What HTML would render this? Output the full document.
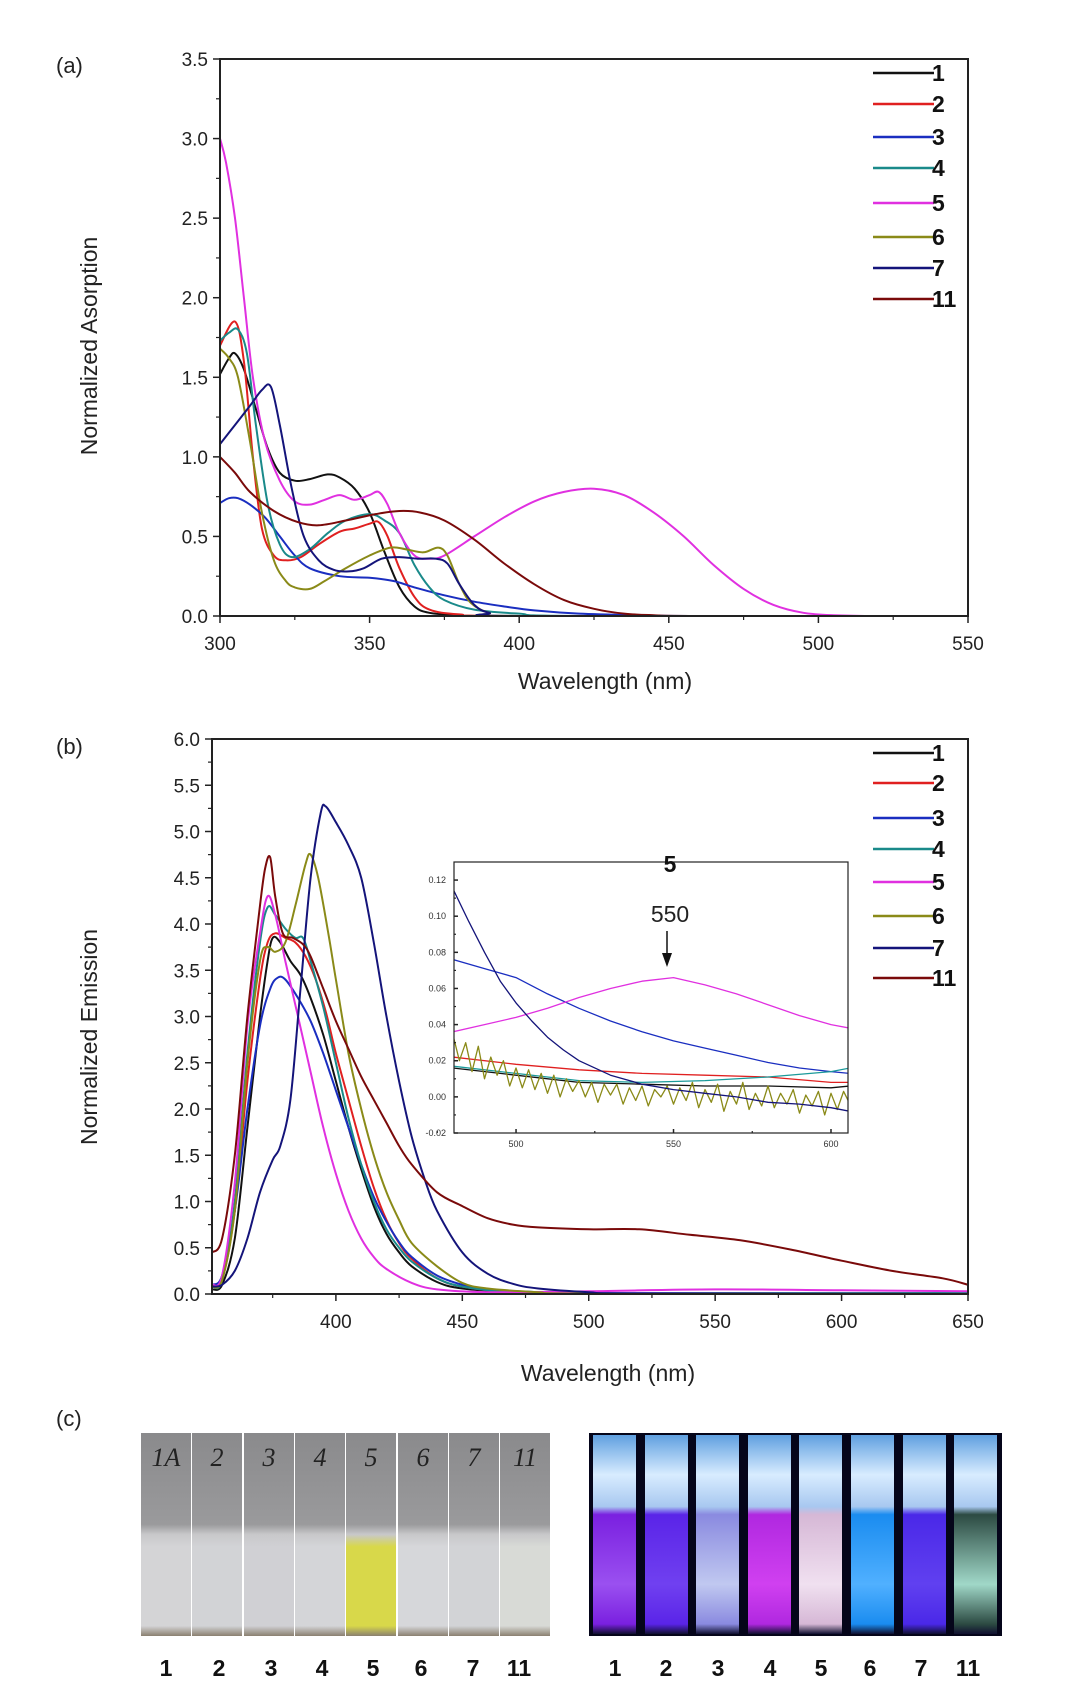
<!DOCTYPE html>
<html><head><meta charset="utf-8">
<style>
html,body{margin:0;padding:0;background:#fff;}
body{width:1080px;height:1696px;position:relative;overflow:hidden;font-family:"Liberation Sans",sans-serif;}
svg{position:absolute;left:0;top:0;}
.tk{font-family:"Liberation Sans Narrow","Liberation Sans",sans-serif;font-size:19px;fill:#222;}
.ttl{font-family:"Liberation Sans",sans-serif;font-size:23px;fill:#222;}
.lg{font-family:"Liberation Sans",sans-serif;font-size:23px;font-weight:bold;fill:#111;}
.pl{font-family:"Liberation Sans",sans-serif;font-size:22px;fill:#222;}
.itk{font-family:"Liberation Sans",sans-serif;font-size:9px;fill:#333;}
.cl{font-family:"Liberation Sans",sans-serif;font-size:23px;font-weight:bold;fill:#111;}
</style></head>
<body>
<svg id="fig" width="1080" height="1696" viewBox="0 0 1080 1696" xmlns="http://www.w3.org/2000/svg"></svg>
<script>
const NS="http://www.w3.org/2000/svg";
const svg=document.getElementById('fig');
const seriesNames=["1","2","3","4","5","6","7","11"];
const seriesColors=["#111111","#e02020","#1a2ec0","#1a8a8a","#e030e0","#8a8a18","#14147a","#7a0a0a"];

// ---- (a) absorption data: [wavelength, value]
const abs1=[[300,1.52],[303,1.62],[305,1.65],[308,1.55],[312,1.3],[316,1.05],[320,0.9],[325,0.85],[330,0.86],[336,0.89],[340,0.87],[345,0.8],[350,0.65],[355,0.4],[360,0.18],[365,0.06],[370,0.02],[380,0.005],[400,0],[550,0]];
const abs2=[[300,1.7],[305,1.85],[308,1.6],[311,1.0],[314,0.55],[318,0.38],[322,0.35],[327,0.37],[333,0.45],[340,0.53],[345,0.55],[350,0.58],[353,0.59],[356,0.5],[360,0.3],[365,0.12],[370,0.04],[380,0.01],[400,0],[550,0]];
const abs3=[[300,0.71],[303,0.74],[306,0.74],[310,0.7],[315,0.62],[320,0.5],[325,0.38],[330,0.3],[340,0.25],[350,0.24],[358,0.22],[365,0.18],[375,0.13],[385,0.09],[395,0.06],[405,0.035],[420,0.015],[440,0.005],[460,0],[550,0]];
const abs4=[[300,1.73],[303,1.78],[306,1.8],[309,1.65],[312,1.2],[316,0.7],[320,0.45],[324,0.37],[330,0.42],[336,0.52],[342,0.6],[350,0.64],[355,0.6],[360,0.52],[365,0.32],[370,0.18],[375,0.1],[385,0.04],[400,0.015],[420,0],[550,0]];
const abs5=[[300,3.0],[302,2.85],[305,2.5],[308,2.0],[311,1.5],[315,1.1],[320,0.85],[325,0.72],[330,0.7],[335,0.73],[340,0.76],[345,0.73],[350,0.76],[353,0.78],[356,0.7],[360,0.52],[365,0.38],[370,0.36],[375,0.38],[385,0.5],[395,0.62],[405,0.72],[415,0.78],[425,0.8],[435,0.76],[445,0.65],[455,0.5],[465,0.32],[475,0.17],[485,0.07],[495,0.02],[505,0.005],[520,0],[550,0]];
const abs6=[[300,1.68],[303,1.62],[306,1.5],[310,1.1],[314,0.65],[318,0.35],[322,0.22],[325,0.18],[330,0.17],[335,0.22],[342,0.3],[350,0.38],[357,0.43],[362,0.42],[368,0.4],[373,0.43],[376,0.38],[380,0.2],[384,0.08],[390,0.02],[400,0],[550,0]];
const abs7=[[300,1.08],[305,1.2],[310,1.32],[314,1.42],[317,1.44],[320,1.2],[324,0.8],[328,0.5],[333,0.35],[338,0.29],[343,0.28],[348,0.3],[354,0.36],[360,0.37],[366,0.36],[372,0.36],[376,0.33],[380,0.2],[385,0.07],[390,0.02],[400,0],[550,0]];
const abs11=[[300,1.0],[305,0.9],[310,0.78],[318,0.66],[326,0.59],[333,0.57],[342,0.6],[352,0.64],[360,0.66],[367,0.65],[375,0.6],[385,0.48],[395,0.33],[405,0.2],[415,0.1],[425,0.045],[435,0.015],[445,0.005],[460,0],[550,0]];
const absSeries=[abs1,abs2,abs3,abs4,abs5,abs6,abs7,abs11];
const absXTicks=[300,350,400,450,500,550];
const absYTicks=[0,0.5,1,1.5,2,2.5,3,3.5];

// ---- (b) emission data
const em1=[[351,0.05],[355,0.1],[360,0.6],[365,1.8],[370,3.0],[373,3.6],[375,3.85],[378,3.8],[382,3.6],[386,3.45],[390,3.2],[395,2.8],[400,2.3],[405,1.8],[410,1.35],[415,0.95],[420,0.65],[425,0.45],[430,0.3],[440,0.13],[450,0.06],[470,0.02],[500,0.005],[650,0]];
const em2=[[351,0.08],[355,0.15],[360,0.9],[365,2.3],[370,3.4],[373,3.8],[376,3.9],[380,3.85],[384,3.8],[388,3.65],[392,3.4],[396,3.05],[400,2.6],[405,2.1],[410,1.6],[415,1.15],[420,0.8],[425,0.55],[430,0.38],[440,0.17],[450,0.08],[470,0.02],[500,0.005],[650,0]];
const em3=[[351,0.1],[355,0.2],[360,0.9],[365,2.0],[370,2.9],[374,3.3],[377,3.42],[380,3.4],[385,3.2],[390,2.95],[395,2.6],[400,2.2],[405,1.8],[410,1.4],[415,1.05],[420,0.78],[425,0.56],[430,0.4],[440,0.2],[450,0.1],[460,0.05],[480,0.02],[500,0.01],[650,0.01]];
const em4=[[351,0.08],[355,0.15],[360,1.0],[365,2.6],[370,3.8],[373,4.18],[376,4.1],[380,3.95],[384,3.85],[387,3.85],[390,3.6],[395,3.1],[400,2.5],[405,1.9],[410,1.4],[415,1.0],[420,0.7],[425,0.5],[430,0.35],[440,0.17],[450,0.08],[470,0.02],[500,0.005],[650,0.01]];
const em5=[[351,0.1],[355,0.2],[360,1.2],[365,2.9],[370,3.9],[373,4.3],[376,4.1],[380,3.6],[385,3.0],[390,2.4],[395,1.8],[400,1.3],[405,0.9],[410,0.6],[415,0.4],[420,0.27],[430,0.12],[440,0.05],[460,0.02],[500,0.03],[550,0.05],[600,0.04],[650,0.03]];
const em6=[[351,0.08],[355,0.15],[360,0.9],[365,2.5],[370,3.6],[373,3.75],[376,3.7],[380,3.8],[384,4.2],[388,4.65],[390,4.75],[393,4.5],[397,3.9],[400,3.4],[405,2.6],[410,2.0],[415,1.5],[420,1.1],[425,0.8],[430,0.55],[440,0.3],[450,0.12],[460,0.06],[480,0.02],[500,0.005],[650,0]];
const em7=[[351,0.08],[355,0.1],[360,0.25],[365,0.6],[370,1.1],[375,1.45],[378,1.6],[382,2.1],[386,3.3],[390,4.5],[394,5.2],[396,5.27],[400,5.1],[405,4.85],[410,4.5],[415,3.8],[420,3.0],[425,2.3],[430,1.7],[435,1.25],[440,0.9],[450,0.45],[460,0.22],[470,0.11],[480,0.06],[500,0.02],[520,0.005],[650,0]];
const em11=[[351,0.45],[355,0.6],[360,1.5],[365,3.0],[370,4.2],[372,4.6],[374,4.72],[376,4.3],[379,3.9],[383,3.85],[387,3.78],[390,3.65],[395,3.3],[400,2.95],[405,2.65],[410,2.35],[415,2.1],[420,1.85],[425,1.6],[430,1.4],[440,1.1],[450,0.95],[460,0.82],[470,0.75],[480,0.72],[500,0.7],[520,0.7],[540,0.64],[560,0.58],[580,0.48],[600,0.36],[620,0.25],[640,0.17],[650,0.1]];
const emSeries=[em1,em2,em3,em4,em5,em6,em7,em11];
const emXTicks=[400,450,500,550,600,650];
const emYTicks=[0,0.5,1,1.5,2,2.5,3,3.5,4,4.5,5,5.5,6];

// ---- inset data
const in1=[[480,0.016],[500,0.012],[520,0.008],[540,0.007],[560,0.006],[580,0.006],[600,0.005],[606,0.006]];
const in2=[[480,0.022],[500,0.018],[520,0.015],[540,0.013],[560,0.012],[580,0.011],[600,0.008],[606,0.008]];
const in3=[[480,0.076],[490,0.071],[500,0.066],[510,0.057],[520,0.049],[530,0.042],[540,0.036],[550,0.031],[560,0.027],[570,0.023],[580,0.019],[590,0.016],[600,0.014],[606,0.013]];
const in4=[[480,0.017],[500,0.013],[520,0.009],[540,0.008],[560,0.009],[580,0.011],[600,0.014],[606,0.016]];
const in5=[[480,0.036],[490,0.04],[500,0.044],[510,0.049],[520,0.055],[530,0.06],[540,0.064],[550,0.066],[560,0.062],[570,0.057],[580,0.051],[590,0.045],[600,0.04],[606,0.038]];
const in6=[[480,0.034],[482,0.02],[484,0.03],[486,0.014],[488,0.028],[490,0.01],[492,0.022],[494,0.012],[496,0.02],[498,0.006],[500,0.016],[502,0.005],[504,0.015],[506,0.004],[508,0.013],[510,0.002],[512,0.012],[514,0.0],[516,0.01],[518,0.003],[520,0.009],[522,0.0],[524,0.008],[526,-0.003],[528,0.007],[530,0.001],[532,0.007],[534,-0.004],[536,0.005],[538,-0.002],[540,0.006],[542,-0.005],[544,0.004],[546,0.0],[548,0.006],[550,-0.004],[552,0.005],[554,-0.002],[556,0.008],[558,-0.006],[560,0.004],[562,-0.003],[564,0.007],[566,-0.008],[568,0.003],[570,-0.004],[572,0.008],[574,-0.007],[576,0.002],[578,-0.005],[580,0.006],[582,-0.006],[584,0.002],[586,-0.004],[588,0.004],[590,-0.009],[592,0.001],[594,-0.005],[596,0.003],[598,-0.01],[600,0.002],[602,-0.007],[604,0.003],[606,-0.004]];
const in7=[[480,0.115],[485,0.097],[490,0.08],[495,0.064],[500,0.052],[505,0.042],[510,0.033],[515,0.026],[520,0.02],[530,0.012],[540,0.007],[550,0.004],[560,0.002],[570,0.0],[580,-0.003],[590,-0.004],[600,-0.006],[606,-0.008]];
const insetSeries=[in1,in2,in3,in4,in5,in6,in7];
const insetColors=["#111111","#e02020","#1a2ec0","#1a9a9a","#e030e0","#8a8a18","#14147a"];
const insetXTicks=[500,550,600];
const insetYTicks=[-0.02,0,0.02,0.04,0.06,0.08,0.10,0.12];

function el(tag,attrs,parent){const e=document.createElementNS(NS,tag);for(const k in attrs)e.setAttribute(k,attrs[k]);(parent||svg).appendChild(e);return e;}
function txt(s,attrs,parent){const e=el('text',attrs,parent);e.textContent=s;return e;}
function scale(d0,d1,r0,r1){return v=>r0+(v-d0)*(r1-r0)/(d1-d0);}
function smoothPath(pts,sx,sy,smooth){
  const P=pts.map(p=>[sx(p[0]),sy(p[1])]);
  let d='M'+P[0][0].toFixed(1)+','+P[0][1].toFixed(1);
  for(let i=0;i<P.length-1;i++){
    if(!smooth){d+=' L'+P[i+1][0].toFixed(1)+','+P[i+1][1].toFixed(1);continue;}
    const p0=P[Math.max(0,i-1)],p1=P[i],p2=P[i+1],p3=P[Math.min(P.length-1,i+2)];
    const c1=[p1[0]+(p2[0]-p0[0])/6,p1[1]+(p2[1]-p0[1])/6];
    const c2=[p2[0]-(p3[0]-p1[0])/6,p2[1]-(p3[1]-p1[1])/6];
    d+=' C'+c1[0].toFixed(1)+','+c1[1].toFixed(1)+' '+c2[0].toFixed(1)+','+c2[1].toFixed(1)+' '+p2[0].toFixed(1)+','+p2[1].toFixed(1);
  }
  return d;
}

function drawChart(cfg){
  const g=el('g',{});
  
  
  const sx=scale(cfg.xmin,cfg.xmax,cfg.L,cfg.R), sy=scale(cfg.ymin,cfg.ymax,cfg.B,cfg.T);
  const clipId=cfg.name+'-clip';
  const cp=el('clipPath',{id:clipId},g);el('rect',{x:cfg.L,y:cfg.T,width:cfg.R-cfg.L,height:cfg.B-cfg.T},cp);
  const sg=el('g',{'clip-path':'url(#'+clipId+')'},g);
  cfg.series.forEach((s,i)=>{
    const p=el('path',{d:smoothPath(s,sx,sy,cfg.smooth!==false),fill:'none',stroke:cfg.colors[i],'stroke-width':cfg.sw||2,'stroke-linejoin':'round'},sg);
    
    
  });
  const fr=el('rect',{x:cfg.L,y:cfg.T,width:cfg.R-cfg.L,height:cfg.B-cfg.T,fill:'none',stroke:'#222','stroke-width':cfg.fw||2},g);
  
  
  const dir=cfg.inward?-1:1, ml=cfg.major||7, mn=cfg.minor||4;
  const xg=el('g',{},g);
  
  
  cfg.xticks.forEach((v,i)=>{
    const x=sx(v);
    el('line',{x1:x,x2:x,y1:cfg.B,y2:cfg.B+dir*ml,stroke:'#222','stroke-width':1.5},xg);
    if(i<cfg.xticks.length-1){const xm=sx(v+cfg.xminor);el('line',{x1:xm,x2:xm,y1:cfg.B,y2:cfg.B+dir*mn,stroke:'#222','stroke-width':1.2},xg);}
    const t=txt(cfg.xfmt?cfg.xfmt(v):String(v),{x:x,y:cfg.B+cfg.xlabOff,'text-anchor':'middle',class:cfg.tkClass},xg);
    
    
  });
  if(cfg.xPreMinor!=null){const xm=sx(cfg.xPreMinor);el('line',{x1:xm,x2:xm,y1:cfg.B,y2:cfg.B+dir*mn,stroke:'#222','stroke-width':1.2},xg);}
  const yg=el('g',{},g);
  
  
  cfg.yticks.forEach((v,i)=>{
    const y=sy(v);
    el('line',{x1:cfg.L,x2:cfg.L-dir*ml,y1:y,y2:y,stroke:'#222','stroke-width':1.5},yg);
    if(i<cfg.yticks.length-1){const ym=sy(v+cfg.yminor);el('line',{x1:cfg.L,x2:cfg.L-dir*mn,y1:ym,y2:ym,stroke:'#222','stroke-width':1.2},yg);}
    const t=txt(cfg.yfmt(v),{x:cfg.L-cfg.ylabOff,y:y+cfg.ylabDy,'text-anchor':'end',class:cfg.tkClass},yg);
    
    
  });
  return g;
}

// (a)
drawChart({name:'absorption-chart',L:220,R:968,T:59,B:616,xmin:300,xmax:550,ymin:0,ymax:3.5,series:absSeries,colors:seriesColors,
  xticks:absXTicks,xminor:25,yticks:absYTicks,yminor:0.25,xlabOff:34,ylabOff:12,ylabDy:7,tkClass:'tk',yfmt:v=>v.toFixed(1)});
// (b)
drawChart({name:'emission-chart',L:212,R:968,T:739,B:1294,xmin:351,xmax:650,ymin:0,ymax:6,series:emSeries,colors:seriesColors,
  xticks:emXTicks,xminor:25,xPreMinor:375,yticks:emYTicks,yminor:0.25,xlabOff:34,ylabOff:12,ylabDy:7,tkClass:'tk',yfmt:v=>v.toFixed(1)});
// inset
el('rect',{x:454,y:862,width:394,height:271,fill:'#fff'});
drawChart({name:'inset-chart',L:454,R:848,T:862,B:1133,xmin:480.3,xmax:605.4,ymin:-0.02,ymax:0.13,series:insetSeries,colors:insetColors,smooth:false,sw:1.3,fw:1.2,
  inward:true,major:4,minor:2,xticks:insetXTicks,xminor:25,xPreMinor:475,yticks:insetYTicks,yminor:0.01,xlabOff:14,ylabOff:8,ylabDy:3,tkClass:'itk',yfmt:v=>v.toFixed(2)});

// titles
function label(s,attrs,name){const t=txt(s,attrs);return t;}
label('(a)',{x:56,y:73,class:'pl'},'panel-a-label');
label('(b)',{x:56,y:754,class:'pl'},'panel-b-label');
label('(c)',{x:56,y:1426,class:'pl'},'panel-c-label');
label('Normalized Asorption',{x:0,y:0,class:'ttl','text-anchor':'middle',transform:'translate(97,346) rotate(-90)'},'y-axis-title-a');
label('Wavelength (nm)',{x:605,y:689,class:'ttl','text-anchor':'middle'},'x-axis-title-a');
label('Normalized Emission',{x:0,y:0,class:'ttl','text-anchor':'middle',transform:'translate(97,1037) rotate(-90)'},'y-axis-title-b');
label('Wavelength (nm)',{x:608,y:1381,class:'ttl','text-anchor':'middle'},'x-axis-title-b');
label('5',{x:670,y:872,class:'lg','text-anchor':'middle'},'inset-title');
label('550',{x:670,y:922,class:'ttl','text-anchor':'middle'},'inset-peak-label');
const ar=el('g',{});


el('line',{x1:667,x2:667,y1:931,y2:957,stroke:'#111','stroke-width':1.5},ar);
el('path',{d:'M662,953 L667,967 L672,953 Z',fill:'#111'},ar);

// legends
function legend(ys,name){
  const g=el('g',{});
  
  
  seriesNames.forEach((n,i)=>{
    const e=el('g',{},g);
    
    
    el('line',{x1:873,x2:934,y1:ys[i],y2:ys[i],stroke:seriesColors[i],'stroke-width':2.5},e);
    txt(n,{x:932,y:ys[i]+8,class:'lg'},e);
  });
}
legend([73,104,137,168,203,237,268,299],'legend-a');
legend([753,783,818,849,882,916,948,978],'legend-b');

// (c) photos
const cuvLabels=["1","2","3","4","5","6","7","11"];
const leftLiquid=["#d4d4d6","#d2d3d6","#d0d0d4","#d4d5d8","#d8d84a","#d6d7da","#d2d3d6","#d8dad6"];
const rightLiquid=["#7a20e0","#5a24e8","#8a8ae0","#b028e0","#d6b8d6","#1a8cf0","#4a28e8","#2c4a42"];
const rightLiquid2=["#9a50f0","#7040f0","#c0c8f0","#d040f0","#f0e0f0","#50b0ff","#6040f0","#a0d8c8"];
const lw=50, rw=51;
const lx=[141,192,244,295,346,398,449,500];
const rx=[589,641,692,744,795,847,899,950];
const lcx=[166,219,271,322,373,421,473,519], rcx=[615,666,718,770,821,870,921,968];
const pg=el('g',{});


const defs=el('defs',{});
cuvLabels.forEach((n,i)=>{
  const gr=el('linearGradient',{id:'lg'+i,x1:0,y1:0,x2:0,y2:1},defs);
  el('stop',{offset:'0','stop-color':'#8a8a8c'},gr);
  el('stop',{offset:'0.45','stop-color':'#9a9a9c'},gr);
  el('stop',{offset:'0.5','stop-color':'#c8c8ca'},gr);
  el('stop',{offset:'0.56','stop-color':leftLiquid[i]},gr);
  el('stop',{offset:'0.95','stop-color':leftLiquid[i]},gr);
  el('stop',{offset:'1','stop-color':'#8a8070'},gr);
  const c=el('rect',{x:lx[i],y:1433,width:lw,height:203,fill:'url(#lg'+i+')'},pg);
  
  
  txt(n==='1'?'1A':n,{x:lx[i]+25,y:1466,'text-anchor':'middle','font-size':26,fill:'#222','font-family':'Liberation Serif,serif','font-style':'italic'},pg);
});
el('rect',{x:589,y:1433,width:413,height:203,fill:'#05051a'});
const pr=el('g',{});


cuvLabels.forEach((n,i)=>{
  const gr=el('linearGradient',{id:'rg'+i,x1:0,y1:0,x2:0,y2:1},defs);
  el('stop',{offset:'0','stop-color':'#60a0e0'},gr);
  el('stop',{offset:'0.2','stop-color':'#d8ecff'},gr);
  el('stop',{offset:'0.36','stop-color':'#a8c8f0'},gr);
  el('stop',{offset:'0.4','stop-color':rightLiquid[i]},gr);
  el('stop',{offset:'0.75','stop-color':rightLiquid2[i]},gr);
  el('stop',{offset:'0.95','stop-color':rightLiquid[i]},gr);
  el('stop',{offset:'1','stop-color':'#101030'},gr);
  const c=el('rect',{x:rx[i]+4,y:1435,width:rw-8,height:199,fill:'url(#rg'+i+')'},pr);
  
  
});
cuvLabels.forEach((n,i)=>{
  const a=txt(n,{x:lcx[i],y:1676,'text-anchor':'middle',class:'cl'});
  
  
  const b=txt(n,{x:rcx[i],y:1676,'text-anchor':'middle',class:'cl'});
  
  
});
</script>
</body></html>
